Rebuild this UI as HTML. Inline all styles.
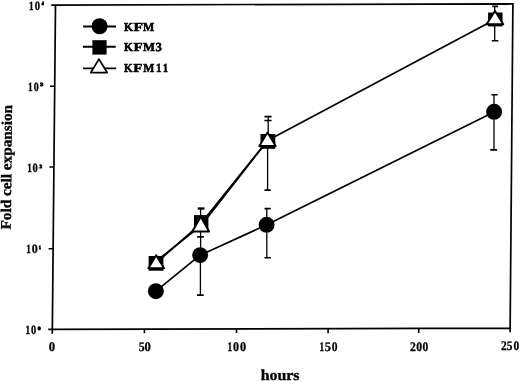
<!DOCTYPE html>
<html><head><meta charset="utf-8"><style>
html,body{margin:0;padding:0;background:#fff;width:520px;height:381px;overflow:hidden}
svg{display:block;will-change:transform}
text{text-rendering:geometricPrecision;font-family:"Liberation Serif",serif;font-weight:bold;fill:#000}
</style></head><body>
<svg width="520" height="381" viewBox="0 0 520 381">
<rect width="520" height="381" fill="#fff"/>
<g stroke="#000" fill="none" stroke-linecap="butt">
<path d="M51.2 5.1 L512.9 3.8 L510.1 332.3 M55.5 5.1 L52.3 333.7 M48.2 329.4 L510.2 328.1" stroke-width="1.7" stroke-linejoin="miter"/>
<path d="M50.1 86.3H54.7 M49.4 167H53.8 M48.6 248.7H53.1" stroke-width="1.6"/>
<path d="M144.4 328.9V333.3 M236.5 328.6V333 M328.1 328.9V333.2 M418.7 328.6V333" stroke-width="1.6"/>
</g>
<text transform="translate(48.71,351.00) scale(0.06371,0.06500)" font-size="200" stroke="#000" stroke-width="3.92">0</text>
<text transform="translate(138.63,351.00) scale(0.05905,0.06500)" font-size="200" stroke="#000" stroke-width="4.23">5</text>
<text transform="translate(144.41,351.00) scale(0.06371,0.06500)" font-size="200" stroke="#000" stroke-width="3.92">0</text>
<text transform="translate(227.58,351.00) scale(0.04680,0.06500)" font-size="200" stroke="#000" stroke-width="5.34">1</text>
<text transform="translate(233.04,351.00) scale(0.06017,0.06500)" font-size="200" stroke="#000" stroke-width="4.16">0</text>
<text transform="translate(239.93,351.00) scale(0.06135,0.06500)" font-size="200" stroke="#000" stroke-width="4.08">0</text>
<text transform="translate(319.43,351.00) scale(0.04680,0.06500)" font-size="200" stroke="#000" stroke-width="5.34">1</text>
<text transform="translate(324.71,351.00) scale(0.06142,0.06500)" font-size="200" stroke="#000" stroke-width="4.07">5</text>
<text transform="translate(331.76,351.00) scale(0.05781,0.06500)" font-size="200" stroke="#000" stroke-width="4.32">0</text>
<text transform="translate(409.90,351.00) scale(0.05903,0.06500)" font-size="200" stroke="#000" stroke-width="4.24">2</text>
<text transform="translate(416.15,351.00) scale(0.05899,0.06500)" font-size="200" stroke="#000" stroke-width="4.24">0</text>
<text transform="translate(422.46,351.00) scale(0.05781,0.06500)" font-size="200" stroke="#000" stroke-width="4.32">0</text>
<text transform="translate(501.01,350.00) scale(0.05783,0.06500)" font-size="200" stroke="#000" stroke-width="4.32">2</text>
<text transform="translate(506.85,350.00) scale(0.05669,0.06500)" font-size="200" stroke="#000" stroke-width="4.41">5</text>
<text transform="translate(513.57,350.00) scale(0.05663,0.06500)" font-size="200" stroke="#000" stroke-width="4.41">0</text>
<text transform="translate(28.98,10.00) scale(0.04572,0.06350)" font-size="200" stroke="#000" stroke-width="5.47">1</text>
<text transform="translate(34.70,10.00) scale(0.05309,0.06350)" font-size="200" stroke="#000" stroke-width="4.71">0</text>
<text transform="translate(41.65,5.00) scale(0.01924,0.02450)" font-size="200" stroke="#000" stroke-width="41.58">4</text>
<text transform="translate(27.98,91.00) scale(0.04572,0.06350)" font-size="200" stroke="#000" stroke-width="5.47">1</text>
<text transform="translate(33.72,91.00) scale(0.04955,0.06350)" font-size="200" stroke="#000" stroke-width="5.05">0</text>
<text transform="translate(40.18,86.00) scale(0.02919,0.02450)" font-size="200" stroke="#000" stroke-width="32.65">3</text>
<text transform="translate(27.23,172.00) scale(0.04572,0.06350)" font-size="200" stroke="#000" stroke-width="5.47">1</text>
<text transform="translate(32.60,172.00) scale(0.05309,0.06350)" font-size="200" stroke="#000" stroke-width="4.71">0</text>
<text transform="translate(39.49,168.00) scale(0.02530,0.02450)" font-size="200" stroke="#000" stroke-width="32.65">2</text>
<text transform="translate(26.33,253.00) scale(0.04572,0.06350)" font-size="200" stroke="#000" stroke-width="5.47">1</text>
<text transform="translate(31.64,253.00) scale(0.06017,0.06350)" font-size="200" stroke="#000" stroke-width="4.16">0</text>
<text transform="translate(38.97,249.00) scale(0.01764,0.02450)" font-size="200" stroke="#000" stroke-width="45.35">1</text>
<text transform="translate(25.38,334.00) scale(0.04572,0.06350)" font-size="200" stroke="#000" stroke-width="5.47">1</text>
<text transform="translate(31.10,334.00) scale(0.05191,0.06350)" font-size="200" stroke="#000" stroke-width="4.82">0</text>
<text transform="translate(37.68,330.00) scale(0.02949,0.02450)" font-size="200" stroke="#000" stroke-width="32.65">0</text>
<text transform="translate(124.10,31.00) scale(0.05777,0.06200)" font-size="200" stroke="#000" stroke-width="9.52">K</text>
<text transform="translate(133.54,31.00) scale(0.07694,0.06200)" font-size="200" stroke="#000" stroke-width="8.87">F</text>
<text transform="translate(143.10,31.00) scale(0.05958,0.06200)" font-size="200" stroke="#000" stroke-width="9.23">M</text>
<text transform="translate(124.11,51.00) scale(0.05645,0.06200)" font-size="200" stroke="#000" stroke-width="9.74">K</text>
<text transform="translate(133.54,51.00) scale(0.07511,0.06200)" font-size="200" stroke="#000" stroke-width="8.87">F</text>
<text transform="translate(142.88,51.00) scale(0.06348,0.06200)" font-size="200" stroke="#000" stroke-width="8.87">M</text>
<text transform="translate(155.53,51.00) scale(0.06305,0.06200)" font-size="200" stroke="#000" stroke-width="8.87">3</text>
<text transform="translate(124.11,72.00) scale(0.05512,0.06200)" font-size="200" stroke="#000" stroke-width="9.98">K</text>
<text transform="translate(133.34,72.00) scale(0.07511,0.06200)" font-size="200" stroke="#000" stroke-width="8.87">F</text>
<text transform="translate(143.20,72.00) scale(0.05902,0.06200)" font-size="200" stroke="#000" stroke-width="9.32">M</text>
<text transform="translate(156.03,72.00) scale(0.05432,0.06200)" font-size="200" stroke="#000" stroke-width="10.12">1</text>
<text transform="translate(163.02,72.00) scale(0.04889,0.06200)" font-size="200" stroke="#000" stroke-width="11.25">1</text>
<text font-size="15.1" text-anchor="middle" transform="translate(280.1,380.1) scale(1.05,1)" stroke="#000" stroke-width="0.35">hours</text>
<text font-size="14.8" text-anchor="middle" transform="translate(11.4,167.25) rotate(-89.45) scale(1.03,1)" stroke="#000" stroke-width="0.35">Fold cell expansion</text>
<g stroke="#000" stroke-width="1.9">
<path d="M83.1 26.5H116 M82.9 46.8H115.7 M83.1 68.4H116.2"/>
</g>
<circle cx="99.6" cy="26.3" r="8.05" fill="#000"/>
<rect x="92.4" y="40.2" width="14.2" height="14.4" fill="#000"/>
<path d="M98.95 59.1 L90.8 72.55 L107.1 72.55 Z" fill="#fff" stroke="#000" stroke-width="1.7" stroke-linejoin="round"/>

<g stroke="#000" fill="none" stroke-width="1.7" stroke-linejoin="round">
<polyline points="155.9,291.2 200.1,255.15 266.7,224.85 494.1,111.9"/>
<polyline points="156.1,263.0 201.1,223.3 267.6,140.5 495,19.5"/>
<polyline points="156.1,261.2 201.1,225.7 267.6,140.5"/>
</g>
<g stroke="#000" fill="none" stroke-width="1.3">
<path d="M200.6 208.5V248 M200.4 255V295.1 M268.2 116.6V141 M267.6 141V190.1 M266.8 208.6V257.8 M494.7 6.4V40.8 M494 94.7V149.9"/>
</g>
<g stroke="#000" fill="none" stroke-width="1.6">
<path d="M197.2 236.9H203.9 M196.9 295.1H203.7"/><path d="M197.7 208.5H204.5" stroke-width="2.3"/>
<path d="M264.4 116.6H271.6 M264.4 120.5H271.6 M264.5 190.1H270.8 M264.5 208.6H270.8 M264.5 257.8H270.8"/>
<path d="M492.3 6.4H498.1 M491.8 40.8H498.3 M491.4 94.7H497.7 M490.2 149.9H497.1"/>
</g>
<g fill="#000">
<circle cx="155.9" cy="291.2" r="8.0"/>
<circle cx="200.15" cy="255.15" r="7.95"/>
<circle cx="266.6" cy="224.8" r="7.95"/>
<circle cx="494.1" cy="111.85" r="8.0"/>
</g>
<g fill="#000">
<rect x="148.6" y="256" width="14.8" height="14.7"/>
<rect x="194" y="215.1" width="14.4" height="16.1"/>
<rect x="260.5" y="134" width="14.8" height="14.8"/>
<rect x="488.1" y="12.5" width="14.4" height="13.9"/>
</g>
<g fill="#fff" stroke="#000" stroke-width="1.9" stroke-linejoin="round">
<path d="M156.2 255.3 L148.4 268.3 L164 268.3 Z"/>
<path d="M200.8 216.8 L192.3 231.5 L209.1 231.5 Z"/>
<path d="M267.5 132.4 L259.3 146 L275.7 146 Z"/>
<path d="M495 11 L486.6 24.3 L503.3 24.3 Z"/>
</g>
</svg>
</body></html>
